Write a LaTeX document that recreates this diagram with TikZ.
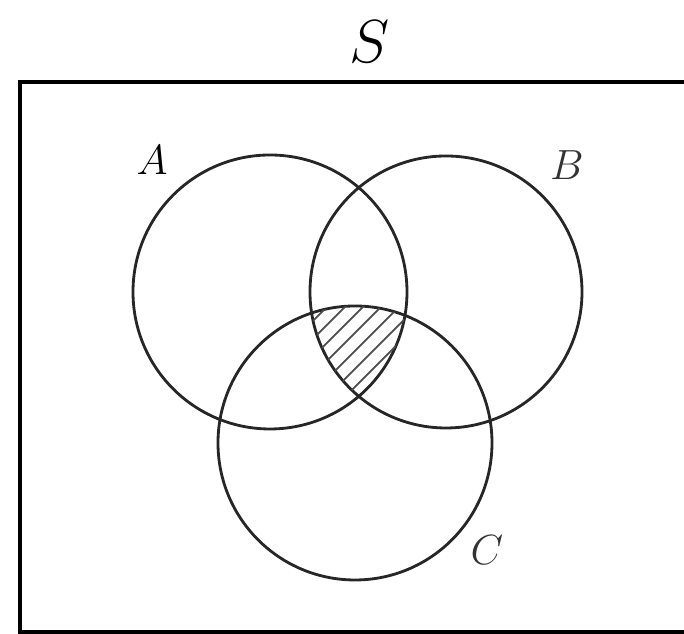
\documentclass[tikz,border=0pt]{standalone}
\begin{document}
\begin{tikzpicture}[x=0.01cm, y=0.01cm, every node/.style={font=\large}]
\useasboundingbox (0,0) rectangle (684,634);
% universe
\draw[line width=1.3pt] (20,2) rectangle (700,552);
\node[font=\LARGE] (labS) at (370,592) {$S$};
% the three sets
\draw[line width=0.8pt, black!85] (270,342) circle (137);
\draw[line width=0.8pt, black!85] (446,342) circle (136);
\draw[line width=0.8pt, black!85] (355,191) circle (137);
\node (labA) at (152,474) {$A$};
\node[black!80] (labB) at (567,469) {$B$};
\node[black!80] (labC) at (487,84) {$C$};
% hatched part A and B and C
\begin{scope}
\clip (270,342) circle (137);
\clip (446,342) circle (136);
\clip (355,191) circle (137);
\foreach \k in {-180,-162,...,36}
  \draw[line width=0.5pt, black!70] (200,200+\k) -- (500,500+\k);
\end{scope}
\end{tikzpicture}
\end{document}
